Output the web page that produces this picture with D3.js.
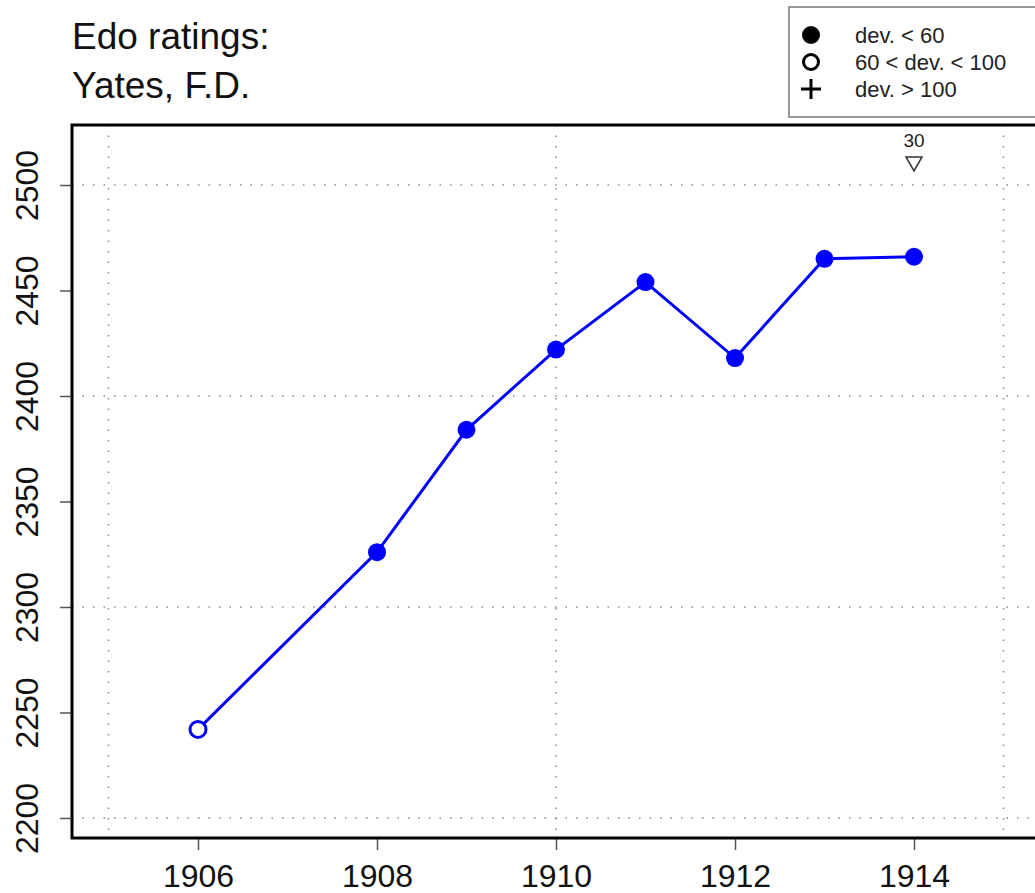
<!DOCTYPE html>
<html>
<head>
<meta charset="utf-8">
<script src="https://cdn.jsdelivr.net/npm/d3@7"></script>
<style>
  body { margin: 0; background: #fff; }
  text { font-family: "Liberation Sans", Arial, sans-serif; }
</style>
</head>
<body>
<svg id="chart" width="1035" height="893"></svg>
<script>
// rating data
const years = [1906, 1908, 1909, 1910, 1911, 1912, 1913, 1914];
const ratings = [2242, 2326, 2384, 2422, 2454, 2418, 2465, 2466];
const devClass = ["mid", "low", "low", "low", "low", "low", "low", "low"];
const xTicks = [1906, 1908, 1910, 1912, 1914];
const yTicks = [2200, 2250, 2300, 2350, 2400, 2450, 2500];
const xGrid = [1905, 1910, 1915];
const yGrid = [2200, 2300, 2400, 2500];
const games = [{ year: 1914, rating: 2510, label: "30" }];
const legendLabels = ["dev. < 60", "60 < dev. < 100", "dev. > 100"];

const svg = d3.select("#chart");
const boxL = 72, boxT = 125, boxB = 838, boxR = 1045;

const x = d3.scaleLinear().domain([1906, 1914]).range([198, 914]);
const y = d3.scaleLinear().domain([2200, 2500]).range([818, 185]);

// grid
svg.append("g").selectAll("line").data(yGrid).join("line")
  .attr("x1", boxL).attr("x2", boxR)
  .attr("y1", d => y(d)).attr("y2", d => y(d))
  .attr("stroke", "#888").attr("stroke-width", 1.5).attr("stroke-dasharray", "1.5,9");
svg.append("g").selectAll("line").data(xGrid).join("line")
  .attr("y1", boxT).attr("y2", boxB)
  .attr("x1", d => x(d)).attr("x2", d => x(d))
  .attr("stroke", "#888").attr("stroke-width", 1.5).attr("stroke-dasharray", "1.5,9");

// axes
const yAxis = d3.axisLeft(y).tickValues(yTicks).tickSize(12).tickFormat(d3.format("d"));
const gy = svg.append("g").attr("transform", `translate(${boxL},0)`).call(yAxis);
gy.select(".domain").remove();
gy.selectAll(".tick line").attr("stroke", "#555").attr("stroke-width", 1.5);
gy.selectAll(".tick text")
  .attr("font-size", 32).attr("fill", "#111")
  .attr("x", 0).attr("y", 0).attr("dy", 0)
  .attr("text-anchor", "middle")
  .attr("transform", "translate(-34,0) rotate(-90)");

const xAxis = d3.axisBottom(x).tickValues(xTicks).tickSize(12).tickFormat(d3.format("d"));
const gx = svg.append("g").attr("transform", `translate(0,${boxB})`).call(xAxis);
gx.select(".domain").remove();
gx.selectAll(".tick line").attr("stroke", "#555").attr("stroke-width", 1.5);
gx.selectAll(".tick text").attr("font-size", 32).attr("fill", "#111").attr("y", 49).attr("dy", 0);

// plot box
svg.append("rect").attr("x", boxL).attr("y", boxT)
  .attr("width", boxR - boxL).attr("height", boxB - boxT)
  .attr("fill", "none").attr("stroke", "#000").attr("stroke-width", 3);

// line
const pts = years.map((yr, i) => ({ year: yr, rating: ratings[i], cls: devClass[i] }));
svg.append("path").datum(pts)
  .attr("d", d3.line().x(d => x(d.year)).y(d => y(d.rating)))
  .attr("fill", "none").attr("stroke", "#0000ff").attr("stroke-width", 3);

svg.append("g").selectAll("circle").data(pts).join("circle")
  .attr("cx", d => x(d.year)).attr("cy", d => y(d.rating))
  .attr("r", d => d.cls === "low" ? 9 : 8)
  .attr("fill", d => d.cls === "low" ? "#0000ff" : "#fff")
  .attr("stroke", "#0000ff").attr("stroke-width", d => d.cls === "low" ? 0 : 3);

// games count marker
const gm = svg.append("g").selectAll("g").data(games).join("g")
  .attr("transform", d => `translate(${x(d.year)},${y(d.rating)})`);
gm.append("path").attr("d", "M-8,-7 L8,-7 L0,7 Z")
  .attr("fill", "none").attr("stroke", "#333").attr("stroke-width", 1.5);
gm.append("text").text(d => d.label).attr("y", -17)
  .attr("text-anchor", "middle").attr("font-size", 19).attr("fill", "#222");

// title
svg.append("text").attr("x", 72).attr("y", 49).attr("font-size", 37).attr("fill", "#111").text("Edo ratings:");
svg.append("text").attr("x", 72).attr("y", 98).attr("font-size", 37).attr("fill", "#111").text("Yates, F.D.");

// legend
const lg = svg.append("g");
lg.append("rect").attr("x", 789).attr("y", 7).attr("width", 300).attr("height", 110)
  .attr("fill", "#fff").attr("stroke", "#777").attr("stroke-width", 1.5);
const rowY = [35, 62, 89];
legendLabels.forEach((lab, i) => {
  const cy = rowY[i];
  if (i === 0) lg.append("circle").attr("cx", 811).attr("cy", cy).attr("r", 9).attr("fill", "#000");
  else if (i === 1) lg.append("circle").attr("cx", 811).attr("cy", cy).attr("r", 7.5)
    .attr("fill", "none").attr("stroke", "#000").attr("stroke-width", 3);
  else lg.append("path").attr("d", `M${801},${cy} H${821} M811,${cy - 10} V${cy + 10}`)
    .attr("stroke", "#000").attr("stroke-width", 3);
  lg.append("text").attr("x", 855).attr("y", cy + 8).attr("font-size", 22).attr("fill", "#222").text(lab);
});
</script>
</body>
</html>
